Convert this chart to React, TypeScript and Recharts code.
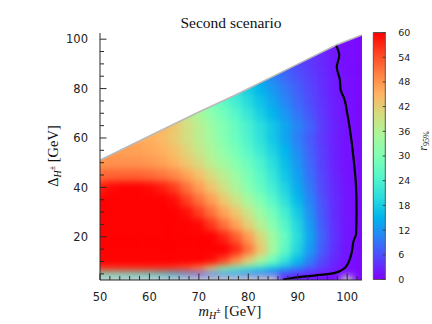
import React from "react";
import {
  ComposedChart,
  BarChart,
  Bar,
  XAxis,
  YAxis,
  Line,
  Area,
  ReferenceArea,
} from "recharts";

const _ = null;
const NA = -1; // no-data cells (drawn grey)

// grid of the scan: m_H± column centres and Δ_H± row centres
const M_COLS = [50, 52.5, 55, 57.5, 60, 62.5, 65, 67.5, 70, 72.5, 75, 77.5, 80, 82.5, 85, 87.5, 90, 92.5, 95, 97.5, 100, 102.5];
const D_ROWS = [3.5, 5, 7, 10, 15, 20, 25, 30, 35, 40, 45, 50, 55, 60, 65, 70, 75, 80, 85, 90, 95, 100];

// r_95%, one array per Δ row (values over 60 are saturated red)
const r_d3 = [NA, NA, NA, NA, NA, NA, NA, NA, NA, NA, NA, NA, NA, NA, NA, 3, 2, 1.5, 1, 0.6, NA, 0.5];
const r_d5 = [23, 23, 22, 21, 20, 18, 15, 10, 6, 8, 10, 10, 9, 8, 6.5, 5, 3.5, 2.5, 1.8, 1, 0.6, 0.5];
const r_d7 = [56, 56, 56, 56, 56, 56, 55, 53, 49, 40, 31, 26, 22, 19, 16, 12.5, 9.5, 6.5, 4, 2, 1, 0.5];
const r_d10 = [62, 62, 62, 62, 62, 62, 62, 62, 61, 59, 55, 49, 42, 35, 28, 21, 15.5, 10, 5.5, 2.8, 1.2, 0.5];
const r_d15 = [66, 66, 66, 66, 66, 66, 66, 66, 66, 64, 61, 57, 51, 43, 34, 26, 19, 12.5, 7, 3.5, 1.5, 0.6];
const r_d20 = [66, 66, 66, 66, 66, 66, 66, 66, 63.5, 61, 57.5, 53, 47.5, 41, 34, 27, 20, 13.5, 7.5, 3.7, 1.6, 0.6];
const r_d25 = [66, 66, 66, 66, 66, 66, 65, 62.5, 59.5, 56, 51.5, 47, 42, 36.5, 31, 25, 19, 12.5, 7, 3.5, 1.5, 0.6];
const r_d30 = [64, 64, 64, 64, 64, 64, 62, 59, 55.5, 51.5, 47, 43, 38.5, 33.5, 28.5, 23, 17.5, 11.5, 6.5, 3.3, 1.5, 0.6];
const r_d35 = [62, 63, 63, 63, 62.5, 61.5, 59, 55.5, 51.5, 47.5, 43, 39, 34.5, 30, 25.5, 20.5, 15.5, 10.5, 6, 3.2, 1.5, 0.6];
const r_d40 = [58, 59.5, 60, 60, 59.5, 58, 55.5, 51.5, 47.5, 43.5, 39.5, 35.5, 31, 27, 23, 18.5, 14, 9.5, 5.5, 3, 1.4, 0.6];
const r_d45 = [52, 52.5, 52.5, 52.5, 52, 51, 49.5, 47, 44, 40.5, 37, 33.5, 29.5, 25.5, 21.5, 17, 13, 8.7, 5.2, 2.7, 1.3, 0.6];
const r_d50 = [48, 48.5, 48.5, 48.5, 48, 47, 45.5, 43, 40.5, 37, 34, 31, 27.5, 24, 20, 16, 12, 8, 4.8, 2.5, 1.2, 0.6];
const r_d55 = [_, 47.5, 47, 47, 46.5, 45.5, 44, 41.5, 38.5, 35.5, 32, 29, 25.5, 22, 18.5, 15, 11, 7.5, 4.5, 2.4, 1.2, 0.6];
const r_d60 = [_, _, _, 46, 45.5, 44.5, 42.5, 40, 37, 34, 30.5, 27.5, 24, 20.5, 17, 13.5, 10, 7, 4.2, 2.3, 1.2, 0.6];
const r_d65 = [_, _, _, _, _, 45, 43, 40, 37, 33.5, 30, 27, 23.5, 20, 17, 13.5, 10.5, 7.5, 4.5, 2.5, 1.2, 0.6];
const r_d70 = [_, _, _, _, _, _, _, 38, 35, 31.5, 28.5, 25, 21.5, 18, 15, 12, 9, 6.5, 4, 2.2, 1.2, 0.6];
const r_d75 = [_, _, _, _, _, _, _, _, _, 29, 26, 23, 19.5, 16.5, 13.5, 10.5, 8, 5.8, 3.8, 2.2, 1.2, 0.6];
const r_d80 = [_, _, _, _, _, _, _, _, _, _, _, 20.5, 18, 15, 12, 9.5, 7.3, 5.3, 3.5, 2, 1.1, 0.6];
const r_d85 = [_, _, _, _, _, _, _, _, _, _, _, _, _, 13, 10.5, 8, 6.3, 4.8, 3.2, 1.9, 1.1, 0.6];
const r_d90 = [_, _, _, _, _, _, _, _, _, _, _, _, _, _, _, 7, 5.5, 4.2, 3, 1.8, 1, 0.6];
const r_d95 = [_, _, _, _, _, _, _, _, _, _, _, _, _, _, _, _, _, 3.8, 2.7, 1.7, 1, 0.5];
const r_d100 = [_, _, _, _, _, _, _, _, _, _, _, _, _, _, _, _, _, _, _, 1.6, 0.9, 0.5];

const R_GRID = [r_d3, r_d5, r_d7, r_d10, r_d15, r_d20, r_d25, r_d30, r_d35, r_d40, r_d45, r_d50, r_d55, r_d60, r_d65, r_d70, r_d75, r_d80, r_d85, r_d90, r_d95, r_d100];

// upper edge of the scanned region
const BOUND_M = [48, 50, 60, 70, 77.3, 90, 97.9, 103, 105];
const BOUND_D = [49.1, 51, 60.8, 70.5, 77.3, 89.9, 97.7, 101.7, 103];

// black contour
const CONTOUR_M = [97.8, 98.4, 97.9, 98.5, 98.7, 99.3, 100.1, 100.8, 101.3, 101.8, 101.9, 101.8, 101.4, 100.8, 99.8, 97.4, 93.4, 89.5, 87];
const CONTOUR_D = [97.3, 93.5, 88.6, 83.8, 79.3, 76.5, 69, 60, 51.5, 40, 30, 21, 19, 12.7, 8, 5.3, 4.3, 3.5, 2.6];

const X_TICKS = [50, 52, 54, 56, 58, 60, 62, 64, 66, 68, 70, 72, 74, 76, 78, 80, 82, 84, 86, 88, 90, 92, 94, 96, 98, 100, 102];
const Y_TICKS = [5, 10, 15, 20, 25, 30, 35, 40, 45, 50, 55, 60, 65, 70, 75, 80, 85, 90, 95, 100];
const CBAR_TICKS = [0, 6, 12, 18, 24, 30, 36, 42, 48, 54, 60];

const W = 432;
const H = 324;
const X_MIN = 50;
const X_MAX = 103;
const Y_MIN = 2.5;
const Y_MAX = 102.5;
const R_MAX = 60;
const PLOT = { left: 100, top: 33, right: 362, bottom: 280 };
const CBAR = { left: 373.3, right: 385.7, top: 32.5, bottom: 279.5 };
const XH = 30;
const YW = 40;
const PAD = 10;
const AX = "#2a2a2a";
const SANS = "DejaVu Sans, sans-serif";
const SERIF = "Liberation Serif, Times New Roman, serif";

// matplotlib "rainbow"
function rainbow(v: number) {
  const t = Math.min(1, Math.max(0, v / R_MAX));
  const r = Math.abs(2 * t - 0.5);
  const g = Math.sin(Math.PI * t);
  const b = Math.cos((Math.PI * t) / 2);
  const h = (c: number) =>
    Math.round(Math.max(0, Math.min(1, c)) * 255)
      .toString(16)
      .padStart(2, "0");
  return `#${h(r)}${h(g)}${h(b)}`;
}

const boundary = BOUND_M.map((m, i) => ({ m, d: BOUND_D[i] }));
const contour = CONTOUR_M.map((m, i) => ({ m, d: CONTOUR_D[i] }));

const mid = (a: number, b: number) => (a + b) / 2;

const cells: { x1: number; x2: number; y1: number; y2: number; fill: string }[] = [];
R_GRID.forEach((row, j) => {
  row.forEach((v, i) => {
    if (v === null) return;
    const x1 = i === 0 ? X_MIN - PAD : mid(M_COLS[i - 1], M_COLS[i]);
    const x2 = i === M_COLS.length - 1 ? X_MAX + PAD : mid(M_COLS[i], M_COLS[i + 1]);
    const y1 = j === 0 ? Y_MIN - PAD : mid(D_ROWS[j - 1], D_ROWS[j]);
    const next = j + 1 < R_GRID.length ? R_GRID[j + 1][i] : null;
    let y2 = j + 1 < D_ROWS.length ? mid(D_ROWS[j], D_ROWS[j + 1]) : Y_MAX;
    if (next === null) y2 += PAD; // run the top cell past the edge, it is masked later
    cells.push({ x1, x2, y1, y2, fill: v === NA ? "#cccccc" : rainbow(v) });
  });
});

function makeTick(side: "bottom" | "top" | "left" | "right") {
  return (props: any) => {
    const { x, y, payload } = props;
    const v = payload.value;
    const major = side === "bottom" || side === "top" ? v % 10 === 0 : v % 20 === 0;
    const len = major ? 6.5 : 4;
    let line;
    if (side === "bottom") line = <line x1={x} y1={y} x2={x} y2={y - len} stroke={AX} />;
    else if (side === "top") line = <line x1={x} y1={y} x2={x} y2={y + len} stroke={AX} />;
    else if (side === "left") line = <line x1={x} y1={y} x2={x + len} y2={y} stroke={AX} />;
    else line = <line x1={x} y1={y} x2={x - len} y2={y} stroke={AX} />;
    return (
      <g>
        {line}
        {major && side === "bottom" && (
          <text x={x} y={y + 20.5} textAnchor="middle" fontFamily={SANS} fontSize={11.5} fill="#222">
            {v}
          </text>
        )}
        {major && side === "left" && (
          <text x={x - 12} y={y + 4.2} textAnchor="end" fontFamily={SANS} fontSize={11.5} fill="#222">
            {v}
          </text>
        )}
      </g>
    );
  };
}

const cbarTick = (props: any) => {
  const { x, y, payload } = props;
  return (
    <g>
      <line x1={x} y1={y} x2={x - 3} y2={y} stroke="#444" />
      <text x={x + 12.5} y={y + 3.4} textAnchor="start" fontFamily={SANS} fontSize={9.5} fill="#222">
        {payload.value}
      </text>
    </g>
  );
};

const CBAR_STOPS = [0, 5, 10, 15, 20, 25, 30, 35, 40, 45, 50, 55, 60];

export default function App() {
  const plotMargin = {
    top: PLOT.top,
    left: PLOT.left,
    right: W - PLOT.right,
    bottom: H - PLOT.bottom,
  };
  return (
    <div style={{ position: "relative", width: W, height: H, background: "#fff" }}>
      <style>{"body{margin:0}"}</style>
      <svg width={0} height={0} style={{ position: "absolute" }}>
        <defs>
          <linearGradient id="cbarGrad" x1="0" y1="1" x2="0" y2="0">
            {CBAR_STOPS.map((v) => (
              <stop key={v} offset={v / R_MAX} stopColor={rainbow(v)} />
            ))}
          </linearGradient>
        </defs>
      </svg>

      {/* heat map, blurred and clipped to the plot area */}
      <div
        style={{
          position: "absolute",
          left: PLOT.left,
          top: PLOT.top,
          width: PLOT.right - PLOT.left,
          height: PLOT.bottom - PLOT.top,
          overflow: "hidden",
        }}
      >
        <div style={{ position: "absolute", left: -PLOT.left, top: -PLOT.top, filter: "blur(3.5px)" }}>
          <ComposedChart width={W} height={H} margin={plotMargin}>
            <XAxis type="number" dataKey="m" domain={[X_MIN, X_MAX]} allowDataOverflow hide />
            <YAxis type="number" domain={[Y_MIN, Y_MAX]} allowDataOverflow hide />
            {cells.map((c, k) => (
              <ReferenceArea
                key={k}
                x1={c.x1}
                x2={c.x2}
                y1={c.y1}
                y2={c.y2}
                fill={c.fill}
                fillOpacity={1}
                stroke={c.fill}
                strokeWidth={0.6}
                ifOverflow="visible"
              />
            ))}
            <Line data={boundary} dataKey="d" stroke="none" dot={false} isAnimationActive={false} />
          </ComposedChart>
        </div>
      </div>

      {/* axes, masked region and contour */}
      <div style={{ position: "absolute", left: 0, top: 0 }}>
        <ComposedChart
          width={W}
          height={H}
          margin={{
            top: PLOT.top,
            right: W - PLOT.right,
            bottom: H - PLOT.bottom - XH,
            left: PLOT.left - YW,
          }}
        >
          <XAxis
            xAxisId="b"
            type="number"
            dataKey="m"
            domain={[X_MIN, X_MAX]}
            allowDataOverflow
            ticks={X_TICKS}
            interval={0}
            height={XH}
            tickSize={0}
            tickMargin={0}
            tickLine={false}
            axisLine={{ stroke: AX }}
            tick={makeTick("bottom")}
          />
          <XAxis
            xAxisId="t"
            orientation="top"
            type="number"
            dataKey="m"
            domain={[X_MIN, X_MAX]}
            allowDataOverflow
            ticks={X_TICKS}
            interval={0}
            height={0}
            tickSize={0}
            tickMargin={0}
            tickLine={false}
            axisLine={{ stroke: AX }}
            tick={makeTick("top")}
          />
          <YAxis
            yAxisId="l"
            type="number"
            domain={[Y_MIN, Y_MAX]}
            allowDataOverflow
            ticks={Y_TICKS}
            interval={0}
            width={YW}
            tickSize={0}
            tickMargin={0}
            tickLine={false}
            axisLine={{ stroke: AX }}
            tick={makeTick("left")}
          />
          <YAxis
            yAxisId="r"
            orientation="right"
            type="number"
            domain={[Y_MIN, Y_MAX]}
            allowDataOverflow
            ticks={Y_TICKS}
            interval={0}
            width={0}
            tickSize={0}
            tickMargin={0}
            tickLine={false}
            axisLine={{ stroke: AX }}
            tick={makeTick("right")}
          />
          <Area
            xAxisId="b"
            yAxisId="l"
            data={boundary}
            dataKey={(p: any) => [p.d, Y_MAX]}
            type="linear"
            fill="#ffffff"
            fillOpacity={1}
            stroke="none"
            isAnimationActive={false}
          />
          <Line
            xAxisId="b"
            yAxisId="l"
            data={boundary}
            dataKey="d"
            type="linear"
            stroke="#b9b9b9"
            strokeWidth={1.6}
            dot={false}
            isAnimationActive={false}
          />
          <Line
            xAxisId="t"
            yAxisId="r"
            data={contour}
            dataKey="d"
            type="monotoneY"
            stroke="#000"
            strokeWidth={2.2}
            dot={false}
            isAnimationActive={false}
          />
        </ComposedChart>
      </div>

      {/* colour bar */}
      <div style={{ position: "absolute", left: 0, top: 0 }}>
        <BarChart
          width={W}
          height={H}
          data={[{ k: "r95", v: R_MAX }]}
          barCategoryGap={0}
          margin={{
            top: CBAR.top,
            bottom: H - CBAR.bottom,
            left: CBAR.left,
            right: W - CBAR.right - YW,
          }}
        >
          <XAxis dataKey="k" hide />
          <YAxis
            orientation="right"
            domain={[0, R_MAX]}
            ticks={CBAR_TICKS}
            interval={0}
            width={YW}
            tickSize={0}
            tickMargin={0}
            tickLine={false}
            axisLine={false}
            tick={cbarTick}
          />
          <Bar dataKey="v" fill="url(#cbarGrad)" stroke="#555" strokeWidth={1} isAnimationActive={false} />
        </BarChart>
      </div>

      {/* titles */}
      <svg width={W} height={H} style={{ position: "absolute", left: 0, top: 0, pointerEvents: "none" }}>
        <text x={231} y={27.5} textAnchor="middle" fontFamily={SERIF} fontSize={15.5} fill="#111">
          Second scenario
        </text>
        <text x={230} y={316} textAnchor="middle" fontFamily={SERIF} fontSize={14.5} fill="#111">
          <tspan fontStyle="italic">m</tspan>
          <tspan fontStyle="italic" fontSize={10} dy={3}>H</tspan>
          <tspan fontSize={8} dy={-6}>±</tspan>
          <tspan dy={3}> [GeV]</tspan>
        </text>
        <text transform="translate(58,156) rotate(-90)" textAnchor="middle" fontFamily={SERIF} fontSize={14.5} fill="#111">
          <tspan>Δ</tspan>
          <tspan fontStyle="italic" fontSize={10} dy={3}>H</tspan>
          <tspan fontSize={8} dy={-6}>±</tspan>
          <tspan dy={3}> [GeV]</tspan>
        </text>
        <text transform="translate(426.5,141) rotate(-90)" textAnchor="middle" fontFamily={SERIF} fontSize={12} fill="#111">
          <tspan fontStyle="italic">r</tspan>
          <tspan fontSize={8} dy={2}>95%</tspan>
        </text>
      </svg>
    </div>
  );
}
